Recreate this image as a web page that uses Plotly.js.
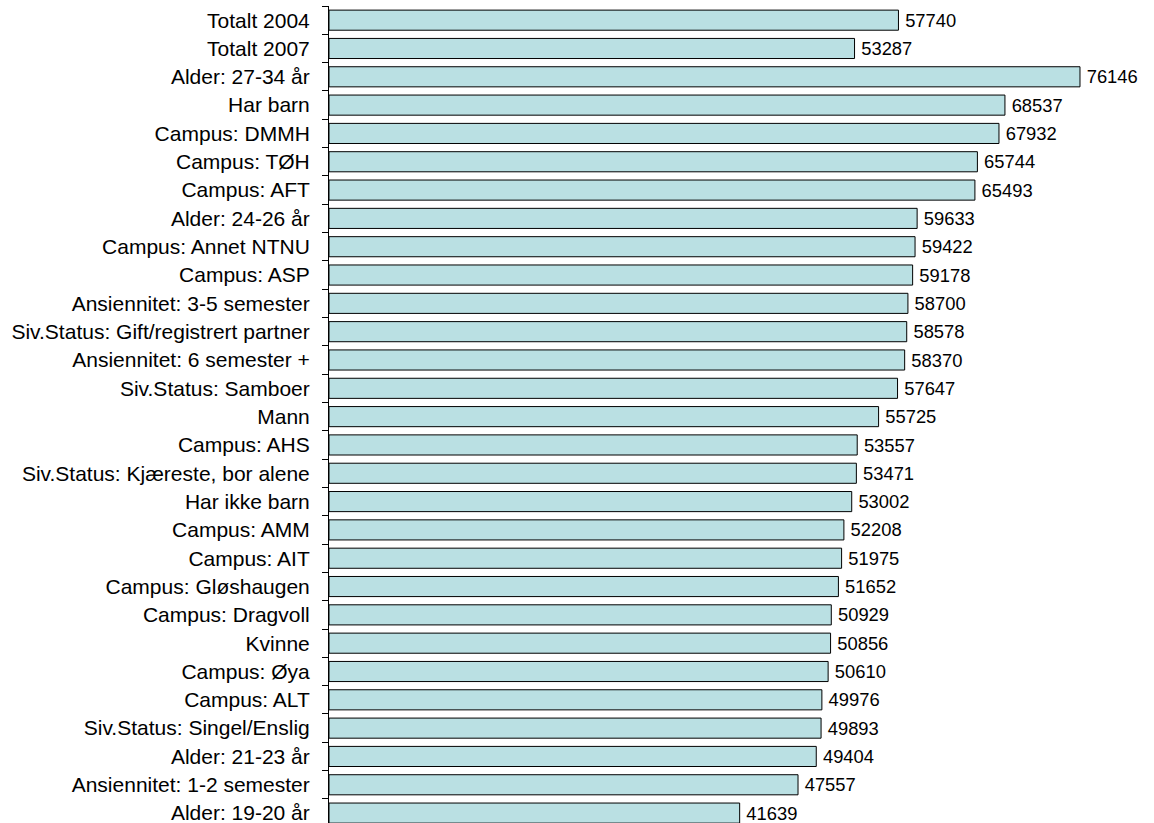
<!DOCTYPE html>
<html>
<head>
<meta charset="utf-8">
<script src="https://cdn.plot.ly/plotly-3.0.1.min.js"></script>
<style>html,body{margin:0;padding:0;background:#fff;}#chart{width:1154px;height:823px;}</style>
</head>
<body>
<div id="chart"></div>
<script>
const categories = [
  "Totalt 2004","Totalt 2007","Alder: 27-34 år","Har barn","Campus: DMMH","Campus: TØH",
  "Campus: AFT","Alder: 24-26 år","Campus: Annet NTNU","Campus: ASP","Ansiennitet: 3-5 semester",
  "Siv.Status: Gift/registrert partner","Ansiennitet: 6 semester +","Siv.Status: Samboer","Mann",
  "Campus: AHS","Siv.Status: Kjæreste, bor alene","Har ikke barn","Campus: AMM","Campus: AIT",
  "Campus: Gløshaugen","Campus: Dragvoll","Kvinne","Campus: Øya","Campus: ALT",
  "Siv.Status: Singel/Enslig","Alder: 21-23 år","Ansiennitet: 1-2 semester","Alder: 19-20 år"
];
const values = [
  57740,53287,76146,68537,67932,65744,65493,59633,59422,59178,58700,58578,58370,57647,55725,
  53557,53471,53002,52208,51975,51652,50929,50856,50610,49976,49893,49404,47557,41639
];
const trace = {
  type: "bar",
  orientation: "h",
  y: categories,
  x: values,
  text: values.map(v => "\u2009" + v),
  textposition: "outside",
  cliponaxis: false,
  textfont: {family: "Liberation Sans, Arial, sans-serif", size: 21, color: "#000"},
  marker: {color: "#bae0e3", line: {color: "#000", width: 1}},
  hoverinfo: "none"
};
const layout = {
  width: 1154, height: 823,
  margin: {l: 329, r: 36, t: 6, b: 0},
  paper_bgcolor: "#fff", plot_bgcolor: "#fff",
  showlegend: false,
  bargap: 0.29,
  font: {family: "Liberation Sans, Arial, sans-serif", size: 21, color: "#000"},
  xaxis: {range: [0, 80000], visible: false, showgrid: false, zeroline: false},
  yaxis: {
    type: "category", range: [28.35, -0.5],
    showline: true, linecolor: "#000", linewidth: 1,
    ticks: "outside", tickson: "boundaries", ticklen: 6, tickcolor: "#000", tickwidth: 1,
    ticklabelstandoff: 14,
    showgrid: false, zeroline: false,
    tickfont: {family: "Liberation Sans, Arial, sans-serif", size: 21, color: "#000"}
  }
};
Plotly.newPlot("chart", [trace], layout, {displayModeBar: false, staticPlot: true});
</script>
</body>
</html>
